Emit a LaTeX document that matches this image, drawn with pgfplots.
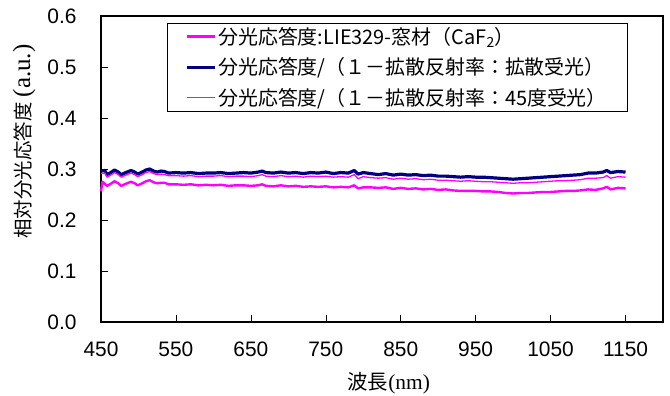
\documentclass[border=0pt]{standalone}
\usepackage{pgfplots}
\pgfplotsset{compat=1.18}
\usepackage{pgfplotstable}
\usepackage{fontspec}
\setmainfont{Liberation Sans}
\newfontfamily\jp{Noto Sans CJK JP}
\newfontfamily\serif{Liberation Serif}
\definecolor{mag}{RGB}{255,0,255}
\definecolor{nav}{RGB}{0,0,128}

\pgfplotstableread{
x y
450 0.256
452 0.275
458 0.267
463 0.271
468 0.276
473 0.272
477 0.267
483 0.271
490 0.275
495 0.272
499 0.268
505 0.272
510 0.276
515 0.278
520 0.274
525 0.272
530 0.273
535 0.273
540 0.270
550 0.270
560 0.269
570 0.270
580 0.268
590 0.269
600 0.268
610 0.269
620 0.267
630 0.268
640 0.268
650 0.267
660 0.268
665 0.270
670 0.267
680 0.266
690 0.268
700 0.266
710 0.267
720 0.265
730 0.266
740 0.265
750 0.266
760 0.264
770 0.265
780 0.264
788 0.268
793 0.262
800 0.264
810 0.264
820 0.263
830 0.264
840 0.261
850 0.263
860 0.261
870 0.262
880 0.260
890 0.261
900 0.259
910 0.260
920 0.258
930 0.257
940 0.257
950 0.257
960 0.256
970 0.256
980 0.255
990 0.253
1000 0.252
1010 0.253
1020 0.253
1030 0.254
1040 0.255
1050 0.255
1060 0.256
1070 0.257
1080 0.257
1090 0.258
1100 0.260
1110 0.259
1120 0.262
1125 0.265
1130 0.260
1140 0.263
1150 0.262
}\tabA

\pgfplotstableread{
x y
450 0.296
455 0.297
458 0.289
463 0.293
468 0.298
473 0.294
477 0.289
483 0.293
490 0.297
495 0.294
499 0.290
505 0.294
510 0.298
515 0.300
520 0.296
525 0.294
530 0.296
535 0.295
540 0.292
550 0.293
560 0.292
570 0.293
580 0.291
590 0.292
600 0.292
610 0.293
620 0.291
630 0.292
640 0.293
650 0.292
660 0.294
665 0.296
670 0.293
680 0.292
690 0.294
700 0.292
710 0.293
720 0.291
730 0.293
740 0.292
750 0.294
760 0.291
770 0.293
780 0.292
788 0.297
793 0.290
800 0.293
810 0.291
820 0.289
830 0.291
840 0.288
850 0.290
860 0.288
870 0.289
880 0.287
890 0.288
900 0.286
910 0.286
920 0.285
930 0.284
940 0.285
950 0.284
960 0.284
970 0.283
980 0.282
990 0.281
1000 0.280
1010 0.281
1020 0.282
1030 0.283
1040 0.284
1050 0.285
1060 0.286
1070 0.287
1080 0.288
1090 0.289
1100 0.292
1110 0.292
1120 0.294
1125 0.297
1130 0.293
1140 0.295
1150 0.294
}\tabB

\pgfplotstableread{
x y
450 0.291
455 0.292
458 0.284
463 0.288
468 0.293
473 0.289
477 0.284
483 0.288
490 0.292
495 0.289
499 0.285
505 0.289
510 0.293
515 0.295
520 0.291
525 0.289
530 0.290
535 0.289
540 0.287
550 0.287
560 0.286
570 0.287
580 0.285
590 0.286
600 0.286
610 0.287
620 0.285
630 0.286
640 0.286
650 0.285
660 0.287
665 0.289
670 0.286
680 0.285
690 0.287
700 0.285
710 0.286
720 0.284
730 0.286
740 0.285
750 0.286
760 0.284
770 0.285
780 0.284
788 0.289
793 0.281
800 0.285
810 0.283
820 0.282
830 0.283
840 0.280
850 0.282
860 0.280
870 0.281
880 0.279
890 0.280
900 0.278
910 0.278
920 0.277
930 0.276
940 0.277
950 0.276
960 0.275
970 0.275
980 0.274
990 0.273
1000 0.272
1010 0.273
1020 0.273
1030 0.274
1040 0.275
1050 0.276
1060 0.277
1070 0.277
1080 0.278
1090 0.279
1100 0.282
1110 0.282
1120 0.283
1125 0.287
1130 0.282
1140 0.285
1150 0.284
}\tabC

\begin{document}
\begin{tikzpicture}
\useasboundingbox (0,0) rectangle (670bp,396bp);
\begin{axis}[
  at={(101bp,74bp)}, anchor=south west,
  scale only axis, width=562bp, height=306bp,
  xmin=450, xmax=1200, ymin=0, ymax=0.6,
  clip=false,
  xtick={450,550,...,1150},
  ytick={0,0.1,...,0.6},
  tick align=inside,
  major tick length=7bp,
  xtick pos=bottom, ytick pos=left,
  axis line style={line width=1.2bp},
  tick style={black, line width=0.6bp},
  /pgf/number format/assume math mode=true,
  yticklabel style={/pgf/number format/fixed, /pgf/number format/fixed zerofill, /pgf/number format/precision=1, font=\fontsize{21}{21}\selectfont, xshift=-21bp},
  xticklabel style={/pgf/number format/set thousands separator={}, font=\fontsize{21}{21}\selectfont, yshift=-16bp},
  xlabel={{\jp 波長}{\serif\fontsize{21.5}{21.5}\selectfont (nm)}},
  xlabel style={font=\fontsize{20.5}{20.5}\selectfont, at={(rel axis cs:0.512,-0.20)}, anchor=center},
  legend style={at={(rel axis cs:0.117,0.977)}, anchor=north west,
    draw=black, line width=0.6bp, font=\jp\fontsize{20}{20}\selectfont,
    inner xsep=18bp, inner ysep=2bp, row sep=8bp, cells={anchor=west}},
  legend image code/.code={\draw[#1] (0bp,0bp) -- (28bp,0bp);},
]
\addplot[mag, line width=2.4bp, line join=round] table[x=x,y=y] {\tabA};
\addlegendentry{分光応答度:LIE329-窓材（CaF\textsubscript{2}）}
\addplot[nav, line width=3.2bp, line join=round] table[x=x,y=y] {\tabB};
\addlegendentry{分光応答度/（１－拡散反射率：拡散受光）}
\addplot[mag, line width=1.3bp, line join=round] table[x=x,y=y] {\tabC};
\addlegendentry{分光応答度/（１－拡散反射率：45度受光）}
\node[rotate=90, anchor=center, inner sep=0pt] at (rel axis cs:-0.137,0.59)
  {\fontsize{19.5}{19.5}\selectfont{\jp 相対分光応答度} {\serif\fontsize{25}{25}\selectfont (a.u.)}};
\end{axis}
\end{tikzpicture}
\end{document}
